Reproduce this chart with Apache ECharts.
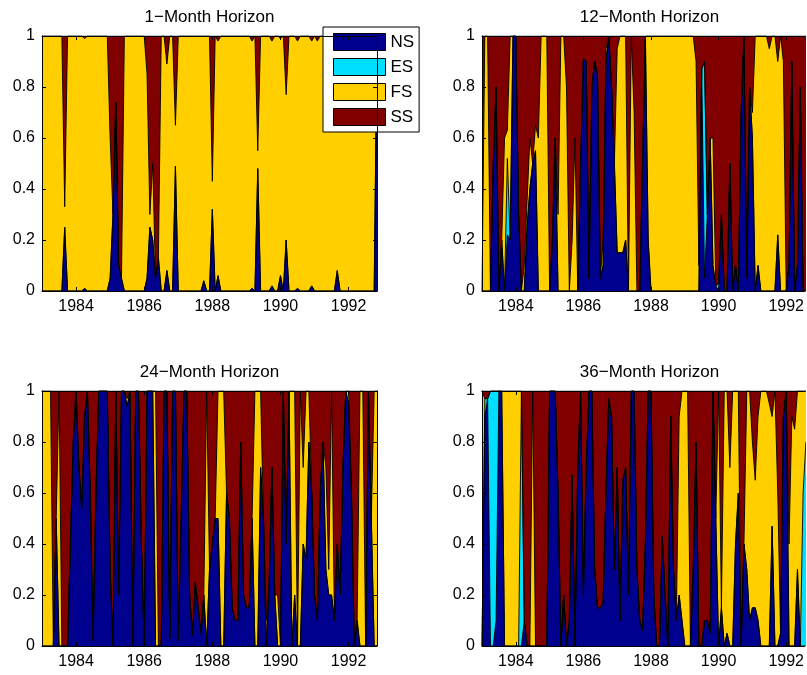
<!DOCTYPE html>
<html>
<head>
<meta charset="utf-8">
<script src="https://cdn.jsdelivr.net/npm/echarts@6/dist/echarts.min.js"></script>
<style>
html,body{margin:0;padding:0;background:#fff;}
#chart{width:807px;height:675px;}
</style>
</head>
<body>
<div id="chart"></div>
<script>
// Monthly observations: Jan 1983 (index 0) ... Nov 1992 (index 118)
const startYear = 1983;
const monthCount = 119;
const dates = Array.from({length: monthCount}, (_, i) => startYear + i / 12);
const xTicks = [1984, 1986, 1988, 1990, 1992];
const yTicks = [0, 0.2, 0.4, 0.6, 0.8, 1];
const seriesNames = ['NS', 'ES', 'FS', 'SS'];
const panelTitles = ['1\u2212Month Horizon', '12\u2212Month Horizon', '24\u2212Month Horizon', '36\u2212Month Horizon'];

// ---- 1-Month Horizon ----
const h1NS = [
0,0,0,0,0,0,0,0,0.25,0,
0,0,0,0,0,0.01,0,0,0,0,
0,0,0,0,0.05,0.3,0.74,0.1,0.05,0,
0,0,0,0,0,0,0,0.05,0.25,0.2,
0.05,0.13,0,0,0.08,0,0,0.49,0,0,
0,0,0,0,0,0,0,0.04,0,0,
0.32,0,0.06,0,0,0,0,0,0,0,
0,0,0,0,0.01,0,0.48,0,0,0,
0,0.02,0,0,0.06,0,0.2,0,0,0,
0.01,0,0,0,0,0.02,0,0,0,0,
0,0,0,0,0.08,0,0,0,0,0,
0,0,0,0,0,0,0,0,1];
const h1ES = [
0,0,0,0,0,0,0,0,0,0,
0,0,0,0,0,0,0,0,0,0,
0,0,0,0,0,0,0,0,0,0,
0,0,0,0,0,0,0,0,0,0,
0,0,0,0,0,0,0,0,0,0,
0,0,0,0,0,0,0,0,0,0,
0,0,0,0,0,0,0,0,0,0,
0,0,0,0,0,0,0,0,0,0,
0,0,0,0,0,0,0,0,0,0,
0,0,0,0,0,0,0,0,0,0,
0,0,0,0,0,0,0,0,0,0,
0,0,0,0,0,0,0,0,0];
const h1FS = [
1,1,1,1,1,1,1,1,0.08,1,
1,1,1,1,1,0.98,1,1,1,1,
1,1,1,1,0.55,0,0,0,0,1,
1,1,1,1,1,1,1,0.8,0.05,0.3,
0,0,1,1,0.81,1,1,0.16,1,1,
1,1,1,1,1,1,1,0.96,1,1,
0.11,1,0.92,1,1,1,1,1,1,1,
1,1,1,1,0.97,1,0.07,1,1,1,
1,0.96,1,1,0.93,1,0.57,1,1,1,
0.97,1,1,1,1,0.96,1,0.98,1,1,
1,1,1,1,0.92,1,1,1,1,1,
1,1,1,1,1,1,1,1,0];
const h1SS = [
0,0,0,0,0,0,0,0,0.67,0,
0,0,0,0,0,0.01,0,0,0,0,
0,0,0,0,0.4,0.7,0.26,0.9,0.95,0,
0,0,0,0,0,0,0,0.15,0.7,0.5,
0.95,0.87,0,0,0.11,0,0,0.35,0,0,
0,0,0,0,0,0,0,0,0,0,
0.57,0,0.02,0,0,0,0,0,0,0,
0,0,0,0,0.02,0,0.45,0,0,0,
0,0.02,0,0,0.01,0,0.23,0,0,0,
0.02,0,0,0,0,0.02,0,0.02,0,0,
0,0,0,0,0,0,0,0,0,0,
0,0,0,0,0,0,0,0,0];

// ---- 12-Month Horizon ----
const h12NS = [
0,0,0,0,0.5,0.8,0,0.2,0,0.22,
0.2,1,1,0.3,0,0,0.25,0.4,0.5,0.55,
0,0,0,0,0,0.2,0.6,0,0,0,
0,0,0,0,0,0.5,0.91,0.9,0.05,0.8,
0.9,0.85,0.05,0.1,0.9,1,0.8,0.5,0.15,0.15,
0.15,0.2,0,0,0,0,0,0.5,1,0.2,
0,0,0,0,0,0,0,0,0,0,
0,0,0,0,0,0,0,0,0.87,0.05,
0.3,0.6,0.1,0.02,0,0.3,0,0,0.5,0,
0.1,0,0.7,1,0.05,0.8,0.6,0,0.1,0,
0,0,0,0,0,0.22,0,0,0,0.1,
0.9,0,0.1,0.8,0,0,0,0,0];
const h12ES = [
0,0,0,0,0,0,0,0,0,0.3,
0,0,0,0,0,0,0,0,0,0,
0,0,0,0,0,0,0,0,0,0,
0,0,0,0,0,0,0,0,0,0,
0,0,0,0,0,0,0,0,0,0,
0,0,0,0,0,0,0,0,0,0,
0,0,0,0,0,0,0,0,0,0,
0,0,0,0,0,0,0,0,0,0.85,
0,0,0,0,0.03,0,0,0,0,0,
0,0,0,0,0,0,0,0,0,0,
0,0,0,0,0,0,0,0,0,0,
0,0,0,0,0,0,0,0,0];
const h12FS = [
0,1,1,0,0,0,0,0,0.6,0.11,
0.8,0,0,0,0,0.1,0.1,0.2,0,0.1,
0.6,1,1,1,0,0,0,0.3,1,1,
0.8,0,0.2,0.6,0,0,0,0,0,0,
0,0,0,0.1,0.05,0,0,0,0.8,0.85,
0.85,0.8,0,1,0.7,0,0,0,0,0.8,
1,1,1,1,1,1,1,1,1,1,
1,1,1,1,1,1,0.9,0.1,0,0,
0,0,0.5,0,0,0,0,0,0,0,
0,0,0,0,0,0,0.1,1,0.9,1,
1,1,0.95,1,1,0.68,1,0.9,0,0,
0,0,0,0,0,0,0,0,0];
const h12SS = [
1,0,0,1,0.5,0.2,1,0.8,0.4,0.37,
0,0,0,0.7,1,0.9,0.65,0.4,0.5,0.35,
0.4,0,0,0,1,0.8,0.4,0.7,0,0,
0.2,1,0.8,0.4,1,0.5,0.09,0.1,0.95,0.2,
0.1,0.15,0.95,0.8,0.05,0,0.2,0.5,0.05,0,
0,0,1,0,0.3,1,1,0.5,0,0,
0,0,0,0,0,0,0,0,0,0,
0,0,0,0,0,0,0.1,0.9,0.13,0.1,
0.7,0.4,0.4,0.98,0.97,0.7,1,1,0.5,1,
0.9,1,0.3,0,0.95,0.2,0.3,0,0,0,
0,0,0.05,0,0,0.1,0,0.1,1,0.9,
0.1,1,0.9,0.2,1,1,1,1,1];

// ---- 24-Month Horizon ----
const h24NS = [
0,0,0,0,0,0.5,0,0,0,0,
0.4,0.8,1,0.7,0.54,0.9,1,0.6,0.02,0.6,
1,1,1,1,0.3,0,1,0.2,1,1,
0.94,1,0,1,1,0.4,0,1,1,1,
0,0,0,1,1,0.03,1,1,0.02,0.5,
1,1,0.2,0.04,0.25,0.15,0.05,0.2,0,0.3,
0.4,0.5,0.5,0,0,0.6,0.5,0.15,0.1,0.1,
0.8,0.2,0.15,0.15,0.5,0,0,0.7,0.5,0,
0.25,0.7,0.2,0,0,1,0.4,1,0,0.2,
0,0,0.4,0.34,0.8,0.6,0.2,0.1,0.6,0.8,
0.3,0.2,0.2,0.1,0.4,0.2,0.7,1,0.95,0.6,
0,0.1,0,0,0,1,0.5,0,0];
const h24ES = [
0,0,0,0,0,0,0,0,0,0,
0,0,0,0,0,0,0,0,0,0,
0,0,0,0,0,0,0,0,0,0,
0,0,0,0,0,0,0,0,0,0,
0,0,0,0,0,0,0,0,0,0,
0,0,0,0,0,0,0,0,0,0,
0,0,0,0,0,0,0,0,0,0,
0,0,0,0,0,0,0,0,0,0,
0,0,0,0,0,0,0,0,0,0,
0,0,0,0,0,0,0,0,0,0,
0,0,0,0,0,0,0,0,0,0,
0,0,0,0,0,0,0,0,0];
const h24FS = [
1,1,1,1,0,0,1,0,0,0,
0,0,0,0,0,0,0,0,0,0,
0,0,0,0,0,0,0,0,0,0,
0.03,0,0,0,0,0,0,0,0,0,
1,0,0,0,0,0,0,0,0,0,
0,0,0,0,0,0,0,0,1,0,
0,0,0.5,1,1,0,0,0,0,0,
0,0,0,0,0,1,1,0.3,0,0.1,
0,0,0,0.2,0,0,0,0,1,0.8,
0,1,0.3,0.66,0.2,0,0,0,0,0,
0.4,0.1,0.8,0,0,0,0,0,0.05,0,
0,0,1,1,0,0,0,1,1];
const h24SS = [
0,0,0,0,1,0.5,0,1,1,1,
0.6,0.2,0,0.3,0.46,0.1,0,0.4,0.98,0.4,
0,0,0,0,0.7,1,0,0.8,0,0,
0.03,0,1,0,0,0.6,1,0,0,0,
0,1,1,0,0,0.97,0,0,0.98,0.5,
0,0,0.8,0.96,0.75,0.85,0.95,0.8,0,0.7,
0.6,0.5,0,0,0,0.4,0.5,0.85,0.9,0.9,
0.2,0.8,0.85,0.85,0.5,0,0,0,0.5,0.9,
0.75,0.3,0.8,0.8,1,0,0.6,0,0,0,
1,0,0.3,0,0,0.4,0.8,0.9,0.4,0.2,
0.3,0.7,0,0.9,0.6,0.8,0.3,0,0,0.4,
1,0.9,0,0,1,0,0.5,0,0];

// ---- 36-Month Horizon ----
const h36NS = [
0,0.9,0.97,0,0,0.1,1,1,0,0,
0,0,0,0,0,0.1,0,0,0,0,
0,0,0,0,1,1,1,0.6,0,0.2,
0,0.1,0.67,0,0.7,1,0.2,0.7,1,1,
0.3,0.15,0.15,0.17,0.6,0.97,0.9,0.3,0.7,0.1,
0.65,0.7,0.2,1,1,0.3,0.1,0.06,0.4,1,
1,0.2,0,0,0.43,0.2,0,0.9,0.3,0.1,
0.2,0.1,0,0,0,0.3,0.8,0,0,0.1,
0.1,0.05,1,0.5,0,0.15,0,0.05,0,0,
0.4,0.6,0,0.4,0.3,0.1,0.15,0.15,0.1,0,
0,0,0,0.47,0,0,0.05,0.9,1,0,
0,0,0.3,0,0,0,0,0,0];
const h36ES = [
0,0.07,0,1,1,0.9,0,0,0,0,
0,0,0,0,1,0,0,0,0,0,
0,0,0,0,0,0,0,0,0,0,
0,0,0,0,0,0,0,0,0,0,
0,0,0,0,0,0,0,0,0,0,
0,0,0,0,0,0,0,0,0,0,
0,0,0,0,0,0,0,0,0,0,
0,0,0,0,0,0,0,0,0,0,
0,0,0,0,0,0,0,0,0,0,
0,0,0,0,0,0,0,0,0,0,
0,0,0,0,0,0,0,0,0,0,
0,0,0,0,0.6,0.8,0.8,0.8,0.8];
const h36FS = [
1,0,0,0,0,0,0,0,1,1,
1,1,1,1,0,0,0,0,1,0,
0,0,0,0,0,0,0,0,0,0,
0,0,0,0,0,0,0,0,0,0,
0,0,0,0,0,0,0,0,0,0,
0,0,0,0,0,0,0,0,0,0,
0,0,0,0,0,0,0,0,0,0,
0.7,0.9,1,1,0,0,0,0,0,0,
0,0,0,0,1,0,1,0.95,0.7,1,
0.6,0.4,0,0,0.7,0.9,0.65,0.5,0.8,1,
1,1,0.95,0.43,1,0.6,0,0,0,0.4,
0.9,0.85,0.7,1,0.4,0.2,0.2,0.2,0.2];
const h36SS = [
0,0.03,0.03,0,0,0,0,0,0,0,
0,0,0,0,0,0.9,1,1,0,1,
1,1,1,1,0,0,0,0.4,1,0.8,
1,0.9,0.33,1,0.3,0,0.8,0.3,0,0,
0.7,0.85,0.85,0.83,0.4,0.03,0.1,0.7,0.3,0.9,
0.35,0.3,0.8,0,0,0.7,0.9,0.94,0.6,0,
0,0.8,1,1,0.57,0.8,1,0.1,0.7,0.9,
0.1,0,0,0,1,0.7,0.2,1,1,0.9,
0.9,0.95,0,0.5,0,0.85,0,0,0.3,0,
0,0,1,0.6,0,0,0.2,0.35,0.1,0,
0,0,0.05,0.1,0,0.4,0.95,0.1,0,0.6,
0.1,0.15,0,0,0,0,0,0,0];

const panels = [
  [h1NS, h1ES, h1FS, h1SS],
  [h12NS, h12ES, h12FS, h12SS],
  [h24NS, h24ES, h24FS, h24SS],
  [h36NS, h36ES, h36FS, h36SS]
];

const colors = ['#00008F', '#00DFFF', '#FFCF00', '#800000'];
const FONT = 'Liberation Sans, Arial, Helvetica, sans-serif';

// Full plot width is 335 px; the right-hand panels are cut off by the page edge,
// so they show only the part of the axis that fits (807 - 482 = 325 px).
const fullWidth = 335;
const grids = [
  {left: 42, top: 36, width: 335, height: 255},
  {left: 482, top: 36, width: 325, height: 255},
  {left: 42, top: 391, width: 335, height: 255},
  {left: 482, top: 391, width: 325, height: 255}
];
const cutRight = [false, true, false, true];

const xMin = dates[0], xMaxFull = dates[dates.length - 1];
const xAxes = [], yAxes = [], series = [], titles = [];
grids.forEach((g, gi) => {
  const xMax = xMin + (xMaxFull - xMin) * g.width / fullWidth;
  const axisLine = {show: true, onZero: false, lineStyle: {color: '#000', width: 1}};
  const tickStyle = {show: true, inside: true, length: 4, lineStyle: {color: '#000', width: 1}, customValues: xTicks};
  xAxes.push({
    type: 'value', gridIndex: gi, position: 'bottom', min: xMin, max: xMax,
    axisLine, axisTick: tickStyle, splitLine: {show: false}, z: 10,
    axisLabel: {show: true, customValues: xTicks, margin: 8, color: '#000', fontFamily: FONT, fontSize: 16,
                formatter: v => String(Math.round(v))}
  });
  xAxes.push({
    type: 'value', gridIndex: gi, position: 'top', min: xMin, max: xMax,
    axisLine, axisTick: tickStyle, splitLine: {show: false}, axisLabel: {show: false}, z: 10
  });
  yAxes.push({
    type: 'value', gridIndex: gi, position: 'left', min: 0, max: 1, interval: 0.2,
    axisLine, axisTick: {show: true, inside: true, length: 4, lineStyle: {color: '#000'}},
    splitLine: {show: false}, z: 10,
    axisLabel: {show: true, margin: 7, color: '#000', fontFamily: FONT, fontSize: 16}
  });
  yAxes.push({
    type: 'value', gridIndex: gi, position: 'right', min: 0, max: 1, interval: 0.2,
    show: !cutRight[gi],
    axisLine, axisTick: {show: true, inside: true, length: 4, lineStyle: {color: '#000'}},
    splitLine: {show: false}, axisLabel: {show: false}, z: 10
  });
  titles.push({
    text: panelTitles[gi], left: g.left + fullWidth / 2, top: g.top - 27.5, textAlign: 'center', padding: 0,
    textStyle: {fontFamily: FONT, fontSize: 17, fontWeight: 'normal', color: '#000'}
  });
  // Cumulative boundaries (NS, NS+ES, NS+ES+FS, total); painted top-down so each
  // lower band covers the area below its boundary, giving a stacked area chart.
  const arrs = panels[gi];
  const cum = arrs.map((_, si) => dates.map((d, i) => {
    let s = 0;
    for (let k = 0; k <= si; k++) s += arrs[k][i];
    return [d, Math.min(1, s)];
  }));
  for (let si = 3; si >= 0; si--) {
    series.push({
      name: seriesNames[si], type: 'line', xAxisIndex: gi * 2, yAxisIndex: gi * 2,
      symbol: 'none', smooth: false, clip: true,
      data: cum[si],
      lineStyle: {color: '#000', width: 0.9},
      itemStyle: {color: colors[si]},
      areaStyle: {color: colors[si], opacity: 1, origin: 'start'},
      emphasis: {disabled: true}
    });
  }
});

const chart = echarts.init(document.getElementById('chart'), null, {renderer: 'canvas'});
chart.setOption({
  animation: false,
  backgroundColor: '#fff',
  title: titles,
  grid: grids,
  xAxis: xAxes,
  yAxis: yAxes,
  legend: {
    data: seriesNames, orient: 'vertical', left: 323, top: 27,
    icon: 'rect', itemWidth: 52, itemHeight: 17, itemGap: 7,
    padding: [6, 5, 6, 10], backgroundColor: '#fff', borderColor: '#000', borderWidth: 1,
    itemStyle: {borderColor: '#000', borderWidth: 1},
    textStyle: {fontFamily: FONT, fontSize: 17, color: '#000'},
    selectedMode: false
  },
  series
});
</script>
</body>
</html>
